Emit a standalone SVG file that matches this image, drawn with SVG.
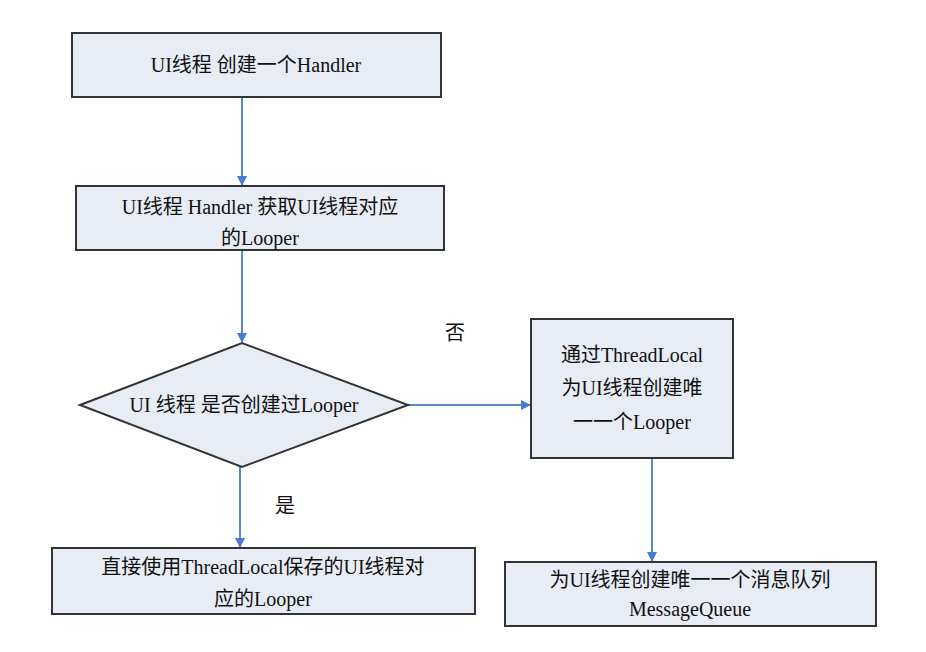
<svg xmlns="http://www.w3.org/2000/svg" width="926" height="652" viewBox="0 0 926 652">
<defs>
<marker id="ah" markerWidth="10" markerHeight="10" refX="9" refY="5" orient="auto" markerUnits="userSpaceOnUse"><path d="M0,0 L10,5 L0,10 Z" fill="#4a7bd0"/></marker>
</defs>
<style>
.n{fill:#e8ecf5;stroke:#333;stroke-width:2}
.t{font-family:"Liberation Serif","Noto Sans CJK SC",serif;font-size:20px;fill:#111;text-anchor:middle}
.c{stroke:#5b87d0;stroke-width:2;fill:none;marker-end:url(#ah)}
</style>
<rect width="926" height="652" fill="#fff"/>
<g id="connectors">
<line class="c" x1="242" y1="97" x2="242" y2="185"/>
<line class="c" x1="242" y1="250" x2="242" y2="342"/>
<line class="c" x1="408" y1="405" x2="530" y2="405"/>
<line class="c" x1="652" y1="458" x2="652" y2="561"/>
<line class="c" x1="240" y1="467" x2="240" y2="547"/>
<text class="t" x="455" y="340" font-size="22">否</text>
<text class="t" x="285" y="513" font-size="22">是</text>
</g>
<g id="n1"><rect class="n" x="72" y="33" width="369" height="64"/><text class="t" x="256" y="72">UI线程 创建一个Handler</text></g>
<g id="n2"><rect class="n" x="76" y="186" width="368" height="64"/><text class="t" x="260" y="214">UI线程 Handler 获取UI线程对应</text><text class="t" x="260" y="245">的Looper</text></g>
<g id="n3"><polygon class="n" points="80,405 242,343 408,405 242,467"/><text class="t" x="244" y="412">UI 线程 是否创建过Looper</text></g>
<g id="n4"><rect class="n" x="531" y="319" width="202" height="139"/><text class="t" x="632" y="362">通过ThreadLocal</text><text class="t" x="632" y="395">为UI线程创建唯</text><text class="t" x="632" y="429">一一个Looper</text></g>
<g id="n5"><rect class="n" x="52" y="548" width="423" height="66"/><text class="t" x="263" y="574">直接使用ThreadLocal保存的UI线程对</text><text class="t" x="263" y="606">应的Looper</text></g>
<g id="n6"><rect class="n" x="505" y="562" width="371" height="64"/><text class="t" x="690" y="587">为UI线程创建唯一一个消息队列</text><text class="t" x="690" y="616">MessageQueue</text></g>
</svg>
